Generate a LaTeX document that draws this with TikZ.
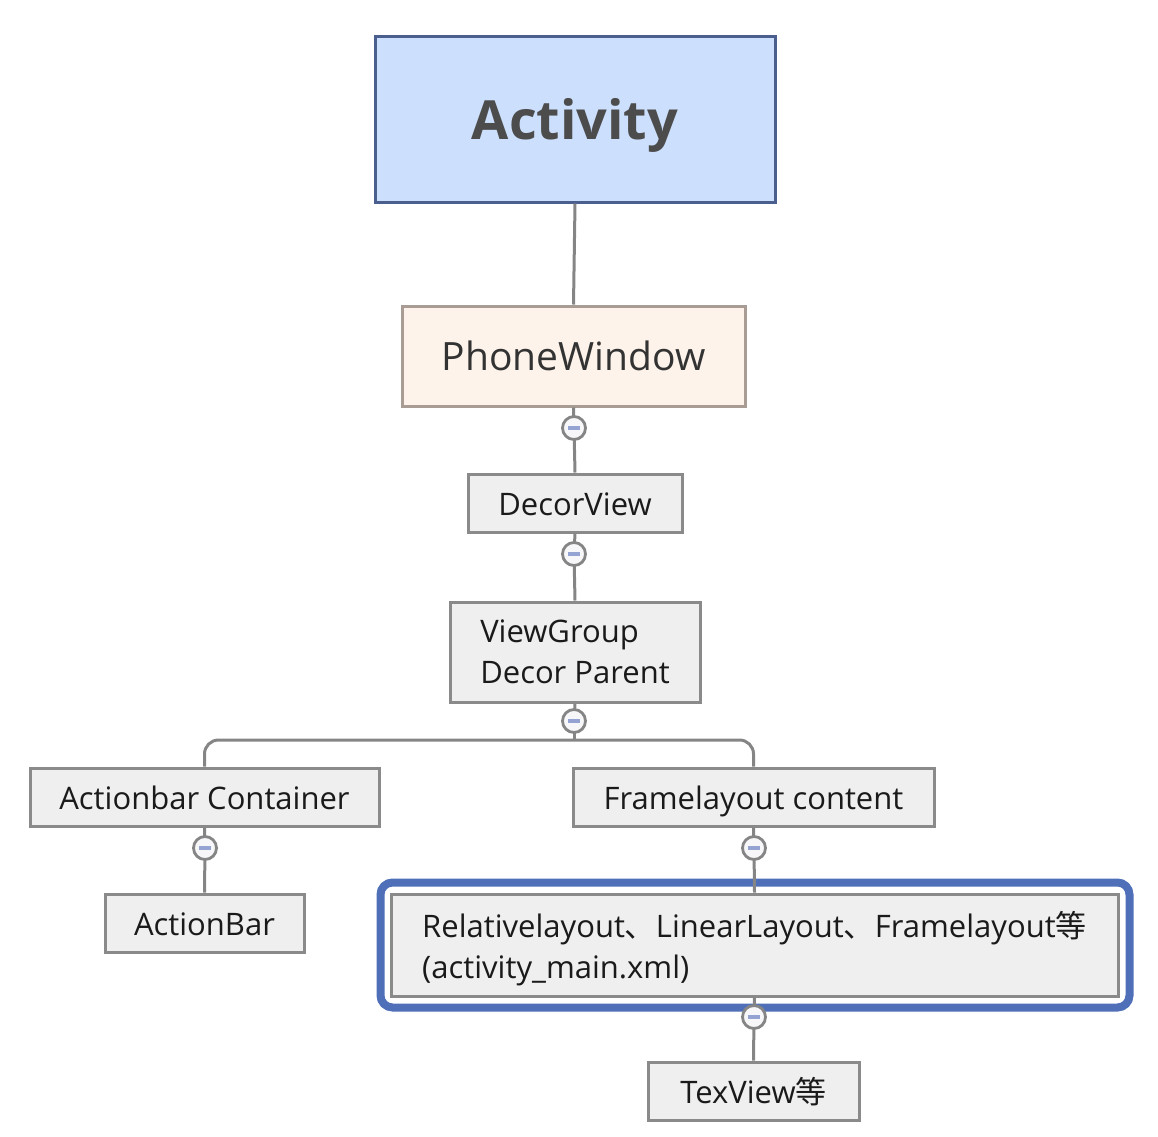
\documentclass[tikz,border=0pt]{standalone}
\usepackage{fontspec}
\setmainfont{Open Sans}
\newfontfamily\cjk{Noto Sans CJK SC}
\definecolor{boxgray}{HTML}{8A8A8A}
\definecolor{boxfill}{HTML}{EFEFEF}
\definecolor{linegray}{HTML}{858585}
\definecolor{actfill}{HTML}{CCDFFC}
\definecolor{actdraw}{HTML}{4A5F8E}
\definecolor{pwfill}{HTML}{FDF3EA}
\definecolor{pwdraw}{HTML}{A89C95}
\definecolor{hlblue}{HTML}{4F6FB9}
\definecolor{minusblue}{HTML}{95A3D3}
\definecolor{circfill}{HTML}{F7F7F9}
\definecolor{txt}{HTML}{1A1A1A}
\tikzset{
  boxnode/.style={draw=boxgray, fill=boxfill, line width=3pt, inner sep=0pt,
    text=txt, font=\fontsize{31}{41}\selectfont},
  oneline/.style={text height=26pt, text depth=2pt},
  conn/.style={draw=linegray, line width=3pt},
  collapse/.style={circle, draw=linegray, fill=circfill, line width=2.8pt,
    minimum size=23pt, inner sep=0pt,
    path picture={\draw[minusblue, line width=3.5pt]
      ([xshift=-6pt]path picture bounding box.center) -- ([xshift=6pt]path picture bounding box.center);}}
}
\begin{document}
\begin{tikzpicture}[x=1pt, y=-1pt]
\useasboundingbox (0,0) rectangle (1158,1136);
% boxes
\node[draw=actdraw, fill=actfill, line width=3pt, minimum width=400pt, minimum height=166pt,
  text=black!70, text depth=0pt, font=\fontsize{54}{60}\selectfont\bfseries] (act) at (575,119) {Activity};
\node[draw=pwdraw, fill=pwfill, line width=3pt, minimum width=343pt, minimum height=100pt,
  text=black!80, font=\fontsize{39}{46}\selectfont] (pw) at (573.5,356) {PhoneWindow};
\node[boxnode, oneline, minimum width=214pt, minimum height=58pt] (dv) at (575,503) {DecorView};
\node[boxnode, minimum width=250pt, minimum height=100pt, align=left] (vg) at (575,652) {ViewGroup\\Decor Parent};
\node[boxnode, oneline, minimum width=349pt, minimum height=58pt] (abc) at (204.5,797) {Actionbar Container};
\node[boxnode, oneline, minimum width=361pt, minimum height=58pt] (fl) at (753.5,797) {Framelayout content};
\node[boxnode, oneline, minimum width=199pt, minimum height=58pt] (ab) at (204.5,923) {ActionBar};
\node[boxnode, minimum width=727pt, minimum height=102pt, align=left, text depth=0pt] (rel) at (754.5,945)
  {Relativelayout{\cjk 、}LinearLayout{\cjk 、}Framelayout{\cjk 等}\\(activity\_main.xml)};
\node[boxnode, oneline, minimum width=211pt, minimum height=58pt] (tv) at (753.5,1091) {TexView{\cjk 等}};
% highlight
\draw[hlblue, line width=8pt, rounded corners=12pt]
  ([shift={(-9,-10)}]rel.north west) rectangle ([shift={(10,10)}]rel.south east);
% collapse points
\coordinate (c1) at (574,428);
\coordinate (c2) at (574,554);
\coordinate (c3) at (574,721);
\coordinate (c4) at (205,848);
\coordinate (c5) at (754,848);
\coordinate (c6) at (754,1017);
\coordinate (j) at (574,740);
% connectors
\draw[conn] (act.south) -- (pw.north);
\draw[conn] (pw.south) -- (c1);
\draw[conn] (c1) -- (dv.north);
\draw[conn] (dv.south) -- (c2);
\draw[conn] (c2) -- (vg.north);
\draw[conn] (vg.south) -- (c3);
\draw[conn] (c3) -- (j);
\draw[conn, rounded corners=14pt] (abc.north) |- (j) -| (fl.north);
\draw[conn] (abc.south) -- (c4);
\draw[conn] (c4) -- (ab.north);
\draw[conn] (fl.south) -- (c5);
\draw[conn] (c5) -- (rel.north);
\draw[conn] (rel.south) -- (c6);
\draw[conn] (c6) -- (tv.north);
% collapse circles
\foreach \c in {c1,c2,c3,c4,c5,c6} \node[collapse] (\c n) at (\c) {};
\end{tikzpicture}
\end{document}
